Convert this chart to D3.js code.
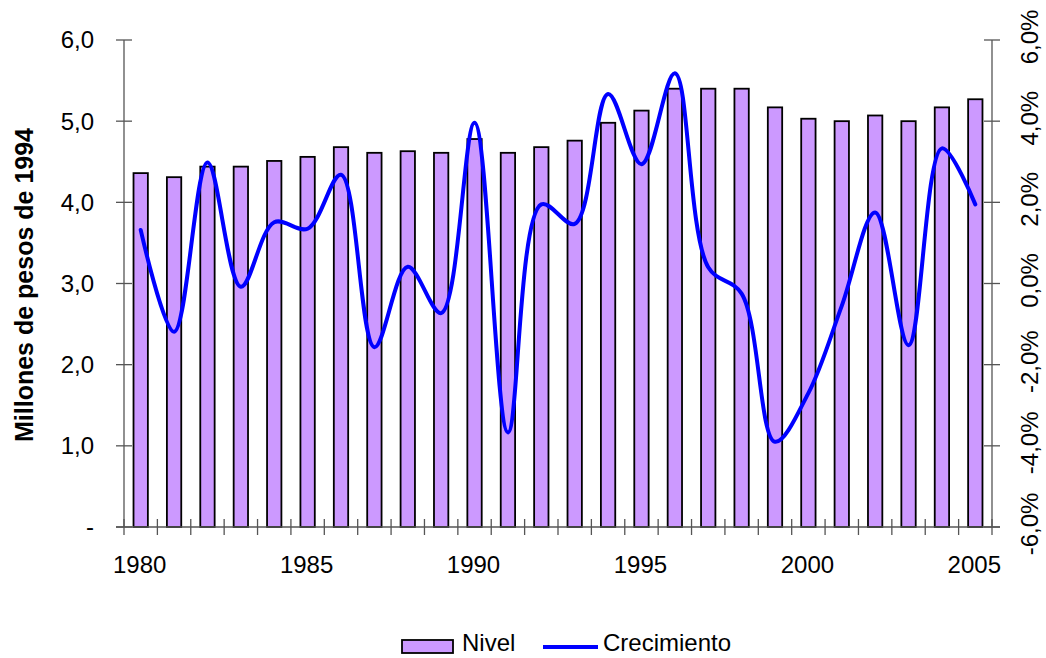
<!DOCTYPE html>
<html>
<head>
<meta charset="utf-8">
<script src="https://cdn.jsdelivr.net/npm/d3@7"></script>
<style>
  body { margin: 0; background: #fff; }
  text { font-family: "Liberation Sans", Arial, sans-serif; fill: #000; }
</style>
</head>
<body>
<svg id="chart" width="1046" height="658"></svg>
<script>
// data
var years = [1980, 1981, 1982, 1983, 1984, 1985, 1986, 1987, 1988, 1989, 1990, 1991, 1992,
             1993, 1994, 1995, 1996, 1997, 1998, 1999, 2000, 2001, 2002, 2003, 2004, 2005];
var nivel = [4.36, 4.31, 4.44, 4.44, 4.51, 4.56, 4.68, 4.61, 4.63, 4.61, 4.78, 4.61, 4.68,
             4.76, 4.98, 5.13, 5.40, 5.40, 5.40, 5.17, 5.03, 5.00, 5.07, 5.00, 5.17, 5.27];
var crecimiento = [1.32, -1.19, 2.98, -0.08, 1.51, 1.35, 2.68, -1.57, 0.41, -0.73, 3.96, -3.67, 1.95,
                   1.47, 4.67, 2.94, 5.18, 0.40, -0.25, -3.90, -2.70, -0.55, 1.75, -1.52, 3.33, 1.95];
var leftTicks = [0, 1, 2, 3, 4, 5, 6];
var rightTicks = [-6, -4, -2, 0, 2, 4, 6];
var yearLabels = [1980, 1985, 1990, 1995, 2000, 2005];

var margin = { top: 40, left: 124, right: 54, bottom: 131 },
    W = 1046, H = 658,
    width = W - margin.left - margin.right,
    height = H - margin.top - margin.bottom;

var svg = d3.select('#chart');
var chartArea = svg.append('g')
    .attr('transform', 'translate(' + margin.left + ',' + margin.top + ')');

var x = d3.scaleBand().domain(years).range([0, width]).padding(0);
var y = d3.scaleLinear().domain([0, 6]).range([height, 0]);
var y2 = d3.scaleLinear().domain([-6, 6]).range([height, 0]);

var axisColor = '#555';
// comma decimals, plain hyphen for negatives
var fmt = function(v, d) { return d3.format('.' + d + 'f')(v).replace('.', ',').replace('\u2212', '-'); };

// bars
var barW = x.bandwidth() * 0.43;
chartArea.append('g')
    .selectAll('rect')
    .data(years)
    .join('rect')
        .attr('x', function(d) { return x(d) + (x.bandwidth() - barW) / 2; })
        .attr('y', function(d, i) { return y(nivel[i]); })
        .attr('width', barW)
        .attr('height', function(d, i) { return height - y(nivel[i]); })
        .attr('fill', '#CC99FF')
        .attr('stroke', '#000')
        .attr('stroke-width', 1.8);

// left axis
var yAxis = chartArea.append('g');
yAxis.append('line')
    .attr('x1', 0).attr('x2', 0).attr('y1', 0).attr('y2', height)
    .attr('stroke', axisColor).attr('stroke-width', 1.3);
yAxis.selectAll('.tick')
    .data(leftTicks)
    .join('line')
        .attr('x1', -8).attr('x2', 8)
        .attr('y1', function(d) { return y(d); })
        .attr('y2', function(d) { return y(d); })
        .attr('stroke', axisColor).attr('stroke-width', 1.3);
yAxis.selectAll('text')
    .data(leftTicks)
    .join('text')
        .attr('x', -30)
        .attr('y', function(d) { return y(d); })
        .attr('dy', '0.35em')
        .attr('text-anchor', 'end')
        .attr('font-size', 24)
        .text(function(d) { return d === 0 ? '-' : fmt(d, 1); });

// right axis
var y2Axis = chartArea.append('g').attr('transform', 'translate(' + width + ',0)');
y2Axis.append('line')
    .attr('x1', 0).attr('x2', 0).attr('y1', 0).attr('y2', height)
    .attr('stroke', axisColor).attr('stroke-width', 1.3);
y2Axis.selectAll('.tick')
    .data(rightTicks)
    .join('line')
        .attr('x1', -8).attr('x2', 8)
        .attr('y1', function(d) { return y2(d); })
        .attr('y2', function(d) { return y2(d); })
        .attr('stroke', axisColor).attr('stroke-width', 1.3);
y2Axis.selectAll('text')
    .data(rightTicks)
    .join('text')
        .attr('transform', function(d) { return 'translate(38,' + (y2(d) - 3) + ') rotate(-90)'; })
        .attr('dy', '0.35em')
        .attr('text-anchor', 'middle')
        .attr('font-size', 24)
        .text(function(d) { return fmt(d, 1) + '%'; });

// bottom axis
var xAxis = chartArea.append('g').attr('transform', 'translate(0,' + height + ')');
xAxis.append('line')
    .attr('x1', -8).attr('x2', width + 8)
    .attr('stroke', axisColor).attr('stroke-width', 1.3);
var xTicks = years.map(function(d) { return x(d); }).concat([width]);
xAxis.selectAll('.tick')
    .data(xTicks)
    .join('line')
        .attr('x1', function(d) { return d; })
        .attr('x2', function(d) { return d; })
        .attr('y1', -8).attr('y2', 8)
        .attr('stroke', axisColor).attr('stroke-width', 1.3);
xAxis.selectAll('text')
    .data(yearLabels)
    .join('text')
        .attr('x', function(d) { return x(d) + x.bandwidth() / 2 - 1; })
        .attr('y', 46)
        .attr('text-anchor', 'middle')
        .attr('font-size', 24)
        .text(function(d) { return d; });

// growth line (smoothed)
var line = d3.line()
    .x(function(d, i) { return x(years[i]) + x.bandwidth() / 2; })
    .y(function(d) { return y2(d); })
    .curve(d3.curveCatmullRom.alpha(0.5));
chartArea.append('path')
    .datum(crecimiento)
    .attr('d', line)
    .attr('fill', 'none')
    .attr('stroke', '#0000FF')
    .attr('stroke-width', 4)
    .attr('stroke-linejoin', 'round')
    .attr('stroke-linecap', 'round');

// y label
svg.append('text')
    .attr('transform', 'translate(33,285) rotate(-90)')
    .attr('text-anchor', 'middle')
    .attr('font-size', 25)
    .attr('font-weight', 'bold')
    .text('Millones de pesos de 1994');

// legend
var legend = svg.append('g').attr('transform', 'translate(402,643)');
legend.append('rect')
    .attr('x', 0).attr('y', -3)
    .attr('width', 51).attr('height', 13)
    .attr('fill', '#CC99FF').attr('stroke', '#000').attr('stroke-width', 1.8);
legend.append('text')
    .attr('x', 60).attr('y', 0).attr('dy', '0.35em')
    .attr('font-size', 24)
    .text('Nivel');
legend.append('line')
    .attr('x1', 141).attr('x2', 196).attr('y1', 4).attr('y2', 4)
    .attr('stroke', '#0000FF').attr('stroke-width', 4);
legend.append('text')
    .attr('x', 201).attr('y', 0).attr('dy', '0.35em')
    .attr('font-size', 24)
    .text('Crecimiento');
</script>
</body>
</html>
